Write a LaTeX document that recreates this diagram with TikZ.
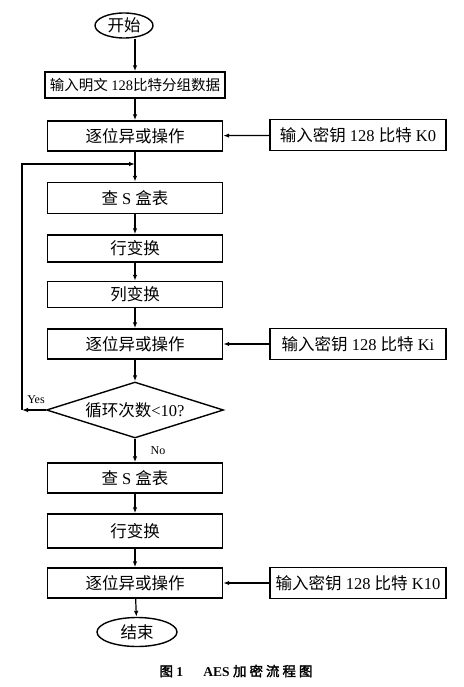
\documentclass[tikz,border=0pt]{standalone}
\usepackage{fontspec}
\setmainfont{Liberation Serif}
\newfontfamily\zhfont{Noto Sans CJK SC}[AutoFakeBold=2]
\newfontfamily\zhtitulo{Noto Sans CJK SC}[LetterSpace=22,AutoFakeBold=2]
\newcommand{\zh}[1]{{\zhfont #1}}
\usetikzlibrary{shapes.geometric,arrows.meta}

\begin{document}
\begin{tikzpicture}[x=1pt,y=-1pt,
    caja/.style={draw,line width=1.4pt,minimum width=175pt,minimum height=29pt,inner sep=0pt,font=\fontsize{16.5}{18}\selectfont},
    clave/.style={caja,minimum width=176pt,minimum height=31pt},
    terminal/.style={draw,ellipse,line width=1.4pt,inner sep=0pt,font=\fontsize{16.5}{18}\selectfont},
    decision/.style={draw,diamond,aspect=3.1,line width=1.4pt,inner sep=0pt,minimum width=177pt,minimum height=56pt,font=\fontsize{16.5}{18}\selectfont},
    etiqueta/.style={inner sep=1pt,font=\fontsize{12}{14}\selectfont},
    flecha/.style={-{Latex[length=6pt,width=4.5pt]},line width=1.2pt}]

        % Fondo blanco con el tamaño de la figura
        \useasboundingbox[fill=white] (0,0) rectangle (463,687);

        % Abscisa de la columna principal y de las claves
        \pgfmathsetmacro{\cx}{135}
        \pgfmathsetmacro{\kx}{358}

        % Inicio y entrada del texto en claro
        \node[terminal,minimum width=58pt,minimum height=25pt] (inicio) at (124,25.5) {\zh{开始}};
        \node[caja,minimum width=180pt,minimum height=26pt,font=\fontsize{14.5}{16}\selectfont] (texto) at (\cx,85) {\zh{输入明文} 128\zh{比特分组数据}};

        % Primera ronda: suma de la clave K0
        \node[caja,minimum height=30pt] (xor0) at (\cx,136) {\zh{逐位异或操作}};
        \node[clave] (k0) at (\kx,135) {\zh{输入密钥} 128 \zh{比特} K0};

        % Rondas intermedias
        \node[caja,minimum height=31pt] (sbox1) at (\cx,198) {\zh{查} S \zh{盒表}};
        \node[caja,minimum height=27pt] (fila1) at (\cx,248.5) {\zh{行变换}};
        \node[caja,minimum height=26pt] (col) at (\cx,294.5) {\zh{列变换}};
        \node[caja,minimum height=30pt] (xori) at (\cx,344) {\zh{逐位异或操作}};
        \node[clave] (ki) at (\kx,344) {\zh{输入密钥} 128 \zh{比特} Ki};

        % Condición del bucle
        \node[decision] (ciclo) at (\cx,410) {\zh{循环次数}<10?};

        % Última ronda sin mezcla de columnas
        \node[caja,minimum height=30pt] (sbox2) at (\cx,478) {\zh{查} S \zh{盒表}};
        \node[caja,minimum height=34pt] (fila2) at (\cx,531) {\zh{行变换}};
        \node[caja,minimum height=30pt] (xorf) at (\cx,583) {\zh{逐位异或操作}};
        \node[clave] (k10) at (\kx,583) {\zh{输入密钥} 128 \zh{比特} K10};
        \node[terminal,minimum width=80pt,minimum height=29pt] (fin) at (137,632) {\zh{结束}};

        % Etiquetas de las salidas de la decisión
        \node[etiqueta] (si) at (36,400) {Yes};
        \node[etiqueta] (no) at (158,451) {No};

        % Título
        \node[font=\bfseries\fontsize{13.5}{15}\selectfont] (titulo) at (236,671) {{\zhtitulo 图} 1\hspace{1.5em}AES {\zhtitulo 加密流程图}};

        % Flechas de la columna principal
        \draw[flecha] (inicio.south -| texto.north) -- (texto.north);
        \draw[flecha] (texto) -- (xor0);
        \draw[flecha] (xor0) -- (sbox1);
        \draw[flecha] (sbox1) -- (fila1);
        \draw[flecha] (fila1) -- (col);
        \draw[flecha] (col) -- (xori);
        \draw[flecha] (xori) -- (ciclo);
        \draw[flecha] (ciclo) -- (sbox2);
        \draw[flecha] (sbox2) -- (fila2);
        \draw[flecha] (fila2) -- (xorf);
        \draw[flecha] (xorf) -- (fin);

        % Entradas de las claves
        \draw[flecha] (k0) -- (xor0);
        \draw[flecha] (ki) -- (xori);
        \draw[flecha] (k10) -- (xorf);

        % Retorno del bucle (Yes)
        \coordinate (esquina) at (22,410);
        \coordinate (retorno) at (\cx,164);
        \draw[flecha] (ciclo.west) -- (esquina);
        \draw[flecha] (esquina) |- (retorno);

    \end{tikzpicture}
\end{document}
